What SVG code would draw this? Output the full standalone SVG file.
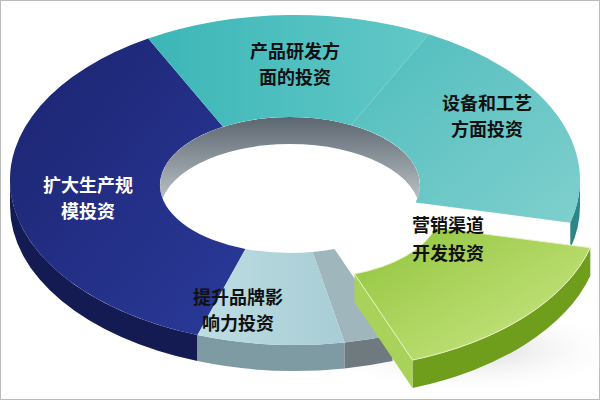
<svg xmlns="http://www.w3.org/2000/svg" width="600" height="400" viewBox="0 0 600 400">
<style>
.t{font-family:"Noto Sans CJK SC","Noto Sans",sans-serif;font-size:18px;font-weight:bold;text-anchor:middle;fill:#111}
.w{fill:#fff}
</style>
<defs>
<linearGradient id="gn" x1="0" y1="0" x2="1" y2="1"><stop offset="0" stop-color="#1c2470"/><stop offset="1" stop-color="#2a3a9a"/></linearGradient>
<linearGradient id="gt" x1="0" y1="0" x2="1" y2="0"><stop offset="0" stop-color="#3cb6b8"/><stop offset="1" stop-color="#62c8c6"/></linearGradient>
<linearGradient id="gr" x1="0" y1="0" x2="1" y2="1"><stop offset="0" stop-color="#4fbdbd"/><stop offset="1" stop-color="#7fcfcd"/></linearGradient>
<linearGradient id="gg" x1="0" y1="0" x2="1" y2="1"><stop offset="0" stop-color="#8fc43a"/><stop offset="1" stop-color="#cfe88a"/></linearGradient>
<linearGradient id="gb" x1="0" y1="0" x2="1" y2="0"><stop offset="0" stop-color="#bcdde3"/><stop offset="1" stop-color="#a8cdd4"/></linearGradient>
<linearGradient id="gw" x1="0" y1="0" x2="0" y2="1"><stop offset="0" stop-color="#5c6670"/><stop offset="1" stop-color="#c8ced2"/></linearGradient>
<radialGradient id="sh" cx="0.5" cy="0.5" r="0.5"><stop offset="0" stop-color="#d8d8d8"/><stop offset="1" stop-color="#fff" stop-opacity="0"/></radialGradient>
<clipPath id="hole"><ellipse cx="290" cy="185" rx="130" ry="68"/></clipPath>
</defs>
<rect x="0.5" y="0.5" width="599" height="399" fill="#fff" stroke="#bbb"/>
<ellipse cx="470" cy="350" rx="160" ry="45" fill="url(#sh)"/>
<g id="hole-wall" clip-path="url(#hole)">
<path d="M160,185 A130 68 0 0 1 420,185 L420,212 A130 68 0 0 0 160,212 Z" fill="url(#gw)"/>
</g>
<g id="walls">
<path d="M197.5,335.1 A285 165 0 0 1 10,180 L10,206 A285 165 0 0 0 197.5,361.1 Z" fill="#141a52"/>
<path d="M344.6,342.5 A285 165 0 0 1 197.5,335.1 L197.5,361.1 A285 165 0 0 0 344.6,368.5 Z" fill="#7e9aa2"/>
<path d="M392.5,335.1 A285 165 0 0 1 344.6,342.5 L344.6,368.5 A285 165 0 0 0 392.5,361.1 Z" fill="#6e7a80"/>
<path d="M580,180 A285 165 0 0 1 570.3,222.7 L570.3,248.7 A285 165 0 0 0 580,206 Z" fill="#2c8688"/>
</g>
<g id="n-navy"><path d="M197.5,335.1 A285 165 0 0 1 148.2,38.6 L223,126.7 A130 68 0 0 0 245.5,248.9 Z" fill="url(#gn)"/>
<text class="t w" x="88" y="192">扩大生产规</text><text class="t w" x="88" y="218">模投资</text></g>
<g id="n-top"><path d="M148.2,38.6 A285 165 0 0 1 428.8,34.3 L351,125 A130 68 0 0 0 223,126.7 Z" fill="url(#gt)"/>
<text class="t" x="295" y="58">产品研发方</text><text class="t" x="295" y="84">面的投资</text></g>
<g id="n-right"><path d="M428.8,34.3 A285 165 0 0 1 570.3,222.7 L415.6,202.6 A130 68 0 0 0 351,125 Z" fill="url(#gr)"/>
<text class="t" x="487" y="110">设备和工艺</text><text class="t" x="487" y="136">方面投资</text></g>
<g id="n-sliver"><path d="M392.5,335.1 A285 165 0 0 1 344.6,342.5 L312.6,252 A130 68 0 0 0 334.5,248.9 Z" fill="#9fb6bc"/></g>
<g id="n-bottom"><path d="M344.6,342.5 A285 165 0 0 1 197.5,335.1 L245.5,248.9 A130 68 0 0 0 312.6,252 Z" fill="url(#gb)"/>
<text class="t" x="238" y="304">提升品牌影</text><text class="t" x="238" y="330">响力投资</text></g>
<g id="n-green">
<path d="M590.3,247.7 A285 165 0 0 1 412.5,360.1 L412.5,388 A285 165 0 0 0 590.3,275.7 Z" fill="#6f9e1c"/>
<path d="M354.5,273.9 L412.5,360.1 L412.5,388 L354.5,301.9 Z" fill="#a9d25a"/>
<path d="M590.3,247.7 A285 165 0 0 1 412.5,360.1 L354.5,273.9 A130 68 0 0 0 435.6,227.6 Z" fill="url(#gg)" stroke="#e8f4c8" stroke-width="1"/>
<text class="t" x="448" y="232">营销渠道</text><text class="t" x="448" y="260">开发投资</text></g>
</svg>
